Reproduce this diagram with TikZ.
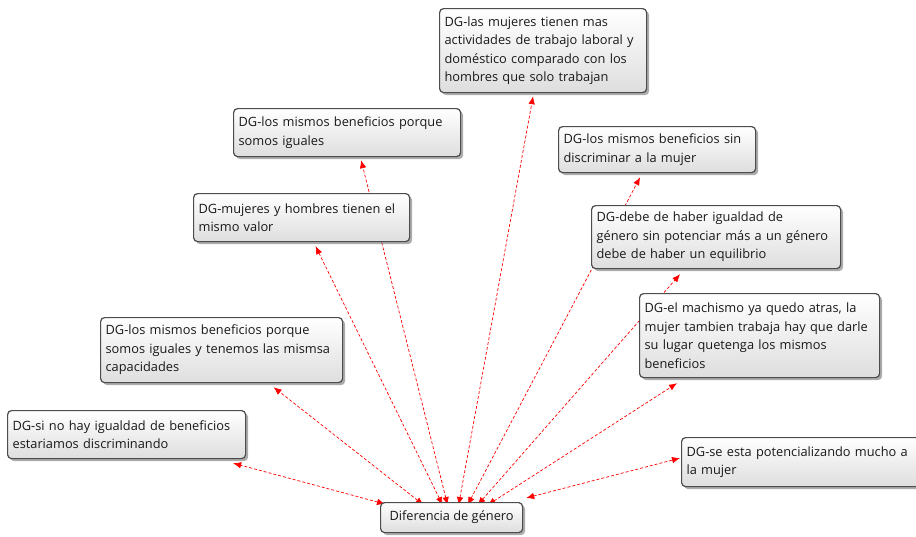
\documentclass[tikz,border=0pt]{standalone}
\usepackage{fontspec}
\setmainfont{Open Sans}
\usetikzlibrary{arrows.meta,shadows,backgrounds}

\tikzset{
  idea/.style={draw=black!70, line width=1.2pt, rounded corners=4pt,
    top color=white, bottom color=black!13,
    drop shadow={shadow xshift=2.5pt, shadow yshift=-2.5pt, fill=black!65},
    anchor=north west, align=left, inner xsep=5pt, inner ysep=5pt,
    font=\fontsize{12.8}{18.5}\selectfont, text=black!90},
  link/.style={red, line width=0.7pt, dash pattern=on 3pt off 2pt,
    {Latex[length=8pt,width=6.5pt]}-{Latex[length=8pt,width=6.5pt]}}
}

\begin{document}
\begin{tikzpicture}[x=1pt,y=-1pt]
  \useasboundingbox (0,0) rectangle (916,536);

  % central idea
  \node[idea, minimum width=142pt, minimum height=30pt, align=center] (cen) at (380,502) {Diferencia de género};

  % surrounding ideas
  \node[idea, text width=197pt, minimum height=84pt] (b2) at (439,8) {DG-las mujeres tienen mas\\actividades de trabajo laboral y\\doméstico comparado con los\\hombres que solo trabajan};
  \node[idea, text width=217pt, minimum height=48pt] (b3) at (233,108) {DG-los mismos beneficios porque\\somos iguales};
  \node[idea, text width=206pt, minimum height=48pt] (b4) at (193,193) {DG-mujeres y hombres tienen el\\mismo valor};
  \node[idea, text width=187pt, minimum height=46pt] (b5) at (558,126) {DG-los mismos beneficios  sin\\discriminar a la mujer};
  \node[idea, text width=239pt, minimum height=63pt] (b6) at (591,205) {DG-debe de haber igualdad de\\género sin potenciar más a un género\\debe de haber un equilibrio};
  \node[idea, text width=230pt, minimum height=84pt] (b7) at (639,293) {DG-el machismo ya quedo atras, la\\mujer tambien trabaja hay que darle\\su lugar quetenga los mismos\\beneficios};
  \node[idea, text width=232pt, minimum height=65pt] (b8) at (100,317) {DG-los mismos beneficios porque\\somos iguales y tenemos las mismsa\\capacidades};
  \node[idea, text width=228pt, minimum height=48pt] (b9) at (7,410) {DG-si no hay igualdad de beneficios\\estariamos discriminando};
  \node[idea, text width=240pt, minimum height=49pt] (b10) at (681,437) {DG-se esta potencializando mucho a\\la mujer};

  % links
  \begin{scope}[on background layer]
    \draw[link] ([xshift=7pt,yshift=-3pt]cen.north) -- ([xshift=-10pt,yshift=-3pt]b2.south);
    \draw[link] ([xshift=-4pt,yshift=-3pt]cen.north) -- ([xshift=14pt,yshift=-3pt]b3.south);
    \draw[link] ([xshift=-9pt,yshift=-3pt]cen.north) -- ([xshift=14pt,yshift=-4pt]b4.south);
    \draw[link] ([xshift=-28pt,yshift=-3pt]cen.north) -- ([xshift=52pt,yshift=-4pt]b8.south);
    \draw[link] ([xshift=5pt,yshift=-2pt]cen.north west) -- ([xshift=-13pt,yshift=-4pt]b9.south east);
    \draw[link] ([xshift=3pt,yshift=4pt]cen.north east) -- ([xshift=-1pt,yshift=4pt]b10.west);
    \draw[link] ([xshift=16pt,yshift=-3pt]cen.north) -- ([xshift=-17pt,yshift=-4pt]b5.south);
    \draw[link] ([xshift=26pt,yshift=-3pt]cen.north) -- ([xshift=-36pt,yshift=-5pt]b6.south);
    \draw[link] ([xshift=36pt,yshift=-3pt]cen.north) -- ([xshift=38pt,yshift=-5pt]b7.south west);
  \end{scope}
\end{tikzpicture}
\end{document}
